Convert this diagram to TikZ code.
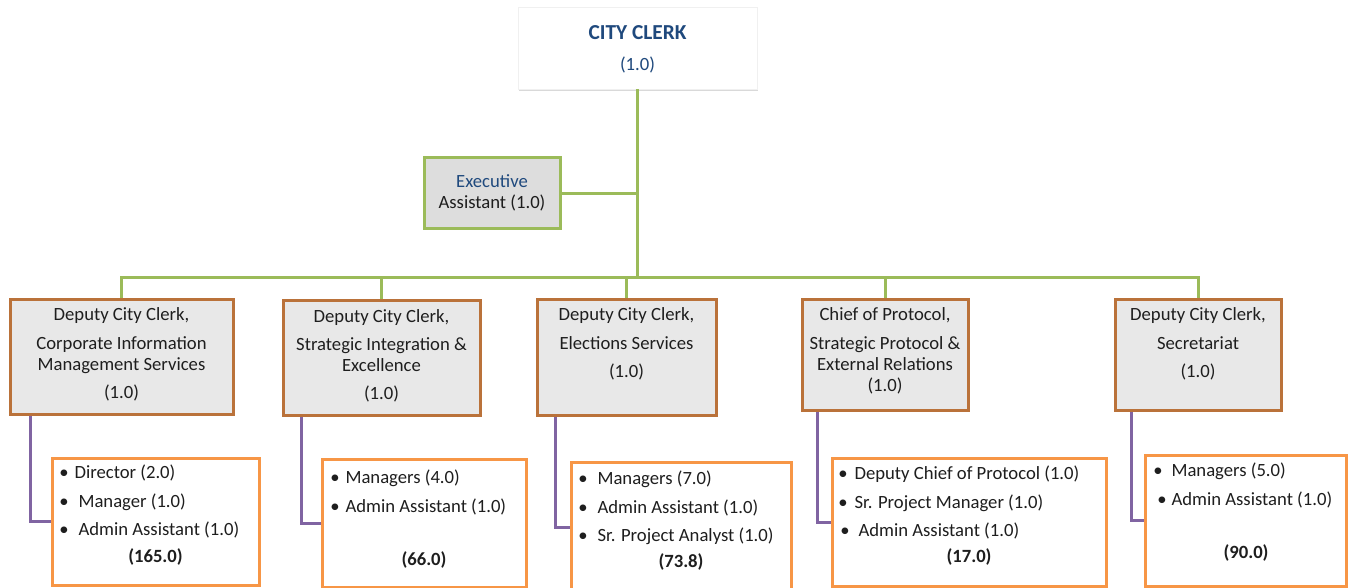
\documentclass[tikz,border=0pt]{standalone}
\usepackage{fontspec}
\setmainfont{Carlito}
\usetikzlibrary{fit,calc,shadows}
\definecolor{clerkblue}{RGB}{31,73,125}
\definecolor{linegreen}{RGB}{155,187,89}
\definecolor{boxbrown}{RGB}{186,114,58}
\definecolor{listorange}{RGB}{247,150,70}
\definecolor{linepurple}{RGB}{128,100,162}
\definecolor{deputygray}{RGB}{232,232,232}
\definecolor{execgray}{RGB}{221,221,221}
\definecolor{textblack}{RGB}{30,30,30}
\tikzset{
	greenline/.style={draw=linegreen, line width=2.25pt},
	purpleline/.style={draw=linepurple, line width=2.25pt},
	clerkbox/.style={draw=black!6, fill=white, line width=0.5pt, inner sep=0pt,
		drop shadow={shadow xshift=1pt, shadow yshift=-1.5pt, opacity=0.3}},
	execbox/.style={draw=linegreen, fill=execgray, line width=2.25pt, inner sep=0pt},
	deputybox/.style={draw=boxbrown, fill=deputygray, line width=2.25pt, inner sep=0pt},
	listbox/.style={draw=listorange, fill=white, line width=2.25pt, inner sep=0pt},
	title/.style={font=\fontsize{14}{15.75}\selectfont, text=textblack, inner sep=0pt, align=center, anchor=north},
	items/.style={font=\fontsize{14}{21.4}\selectfont, text=textblack, inner sep=0pt, align=left, anchor=north west},
	total/.style={font=\fontsize{14}{15}\selectfont\bfseries, text=textblack, inner sep=0pt},
}
\begin{document}
\begin{tikzpicture}[x=0.75pt, y=-0.75pt]
	\useasboundingbox (0,0) rectangle (1348,588);
	
	\node[clerkbox, fit={(518,7) (757,89)}] (clerk) {};
	\node[total, font=\fontsize{16}{18}\selectfont\bfseries, text=clerkblue] (clerkname) at (637.5,33) {CITY CLERK};
	\node[title, anchor=center, text=clerkblue] (clerkfte) at (637.5,65) {(1.0)};
	
	\node[execbox, fit={(424,158) (560,228)}] (exec) {};
	\node[title, anchor=center] (exectext) at (exec.center) {\textcolor{clerkblue}{Executive}\\Assistant (1.0)};
	
	\node[deputybox, fit={(10,299) (233,414)}] (d1) {};
	\node[deputybox, fit={(283,300) (480,415)}] (d2) {};
	\node[deputybox, fit={(537,299) (716,415)}] (d3) {};
	\node[deputybox, fit={(802,299) (968,410)}] (d4) {};
	\node[deputybox, fit={(1115,299) (1281,410)}] (d5) {};
	
	\node[title] (d1text) at ($(d1.north)+(0,10)$) {Deputy City Clerk,\\[6pt]Corporate Information\\Management Services\\[5.25pt](1.0)};
	\node[title] (d2text) at ($(d2.north)+(0,11)$) {Deputy City Clerk,\\[5.25pt]Strategic Integration \&\\Excellence\\[5.25pt](1.0)};
	\node[title] (d3text) at ($(d3.north)+(0,10)$) {Deputy City Clerk,\\[6pt]Elections Services\\[5.25pt](1.0)};
	\node[title] (d4text) at ($(d4.north)+(0,10)$) {Chief of Protocol,\\[6pt]Strategic Protocol \&\\External Relations\\(1.0)};
	\node[title] (d5text) at ($(d5.north)+(0,10)$) {Deputy City Clerk,\\[6pt]Secretariat\\[5.25pt](1.0)};
	
	\node[listbox, fit={(52,458) (259,585)}] (l1) {};
	\node[listbox, fit={(322,459) (526,587)}] (l2) {};
	\node[listbox, fit={(571,462) (791,592)}] (l3) {};
	\node[listbox, fit={(832,458) (1106,586)}] (l4) {};
	\node[listbox, fit={(1145,455) (1346,586)}] (l5) {};
	
	\node[items] (l1items) at (59,465) {\textbullet\hspace{4.5pt}Director (2.0)\\\textbullet\hspace{7.5pt}Manager (1.0)\\\textbullet\hspace{7.5pt}Admin Assistant (1.0)};
	\node[items] (l2items) at (330,470) {\textbullet\hspace{4.5pt}Managers (4.0)\\\textbullet\hspace{4.5pt}Admin Assistant (1.0)};
	\node[items] (l3items) at (578,471) {\textbullet\hspace{7.5pt}Managers (7.0)\\\textbullet\hspace{7.5pt}Admin Assistant (1.0)\\\textbullet\hspace{7.5pt}Sr. Project Analyst (1.0)};
	\node[items] (l4items) at (838,466) {\textbullet\hspace{5.25pt}Deputy Chief of Protocol (1.0)\\\textbullet\hspace{5.25pt}Sr. Project Manager (1.0)\\\hspace{1.5pt}\textbullet\hspace{6.75pt}Admin Assistant (1.0)};
	\node[items] (l5items) at (1153,463) {\textbullet\hspace{6.75pt}Managers (5.0)\\\hspace{3pt}\textbullet\hspace{3.75pt}Admin Assistant (1.0)};
	
	\node[total] (l1total) at (155.5,557) {(165.0)};
	\node[total] (l2total) at (424,560) {(66.0)};
	\node[total] (l3total) at (681,562) {(73.8)};
	\node[total] (l4total) at (969,557) {(17.0)};
	\node[total] (l5total) at (1246,553) {(90.0)};
	
	\coordinate (bus) at (637.5,277);
	\draw[greenline] (clerk.south) -- (bus);
	\draw[greenline] (exec.east) -- (exec.east -| bus);
	\draw[greenline] (d1.north) |- (bus) -| (d5.north);
	\foreach \d in {2,3,4}{
		\draw[greenline] (d\d.north |- bus) -- (d\d.north);
	}
	
	\draw[purpleline] ($(d1.south west)+(22,0)$) |- (l1.west);
	\draw[purpleline] ($(d2.south west)+(20,0)$) |- (l2.west);
	\draw[purpleline] ($(d3.south west)+(20,0)$) |- (l3.west);
	\draw[purpleline] ($(d4.south west)+(17,0)$) |- (l4.west);
	\draw[purpleline] ($(d5.south west)+(18,0)$) |- (l5.west);
\end{tikzpicture}
\end{document}
